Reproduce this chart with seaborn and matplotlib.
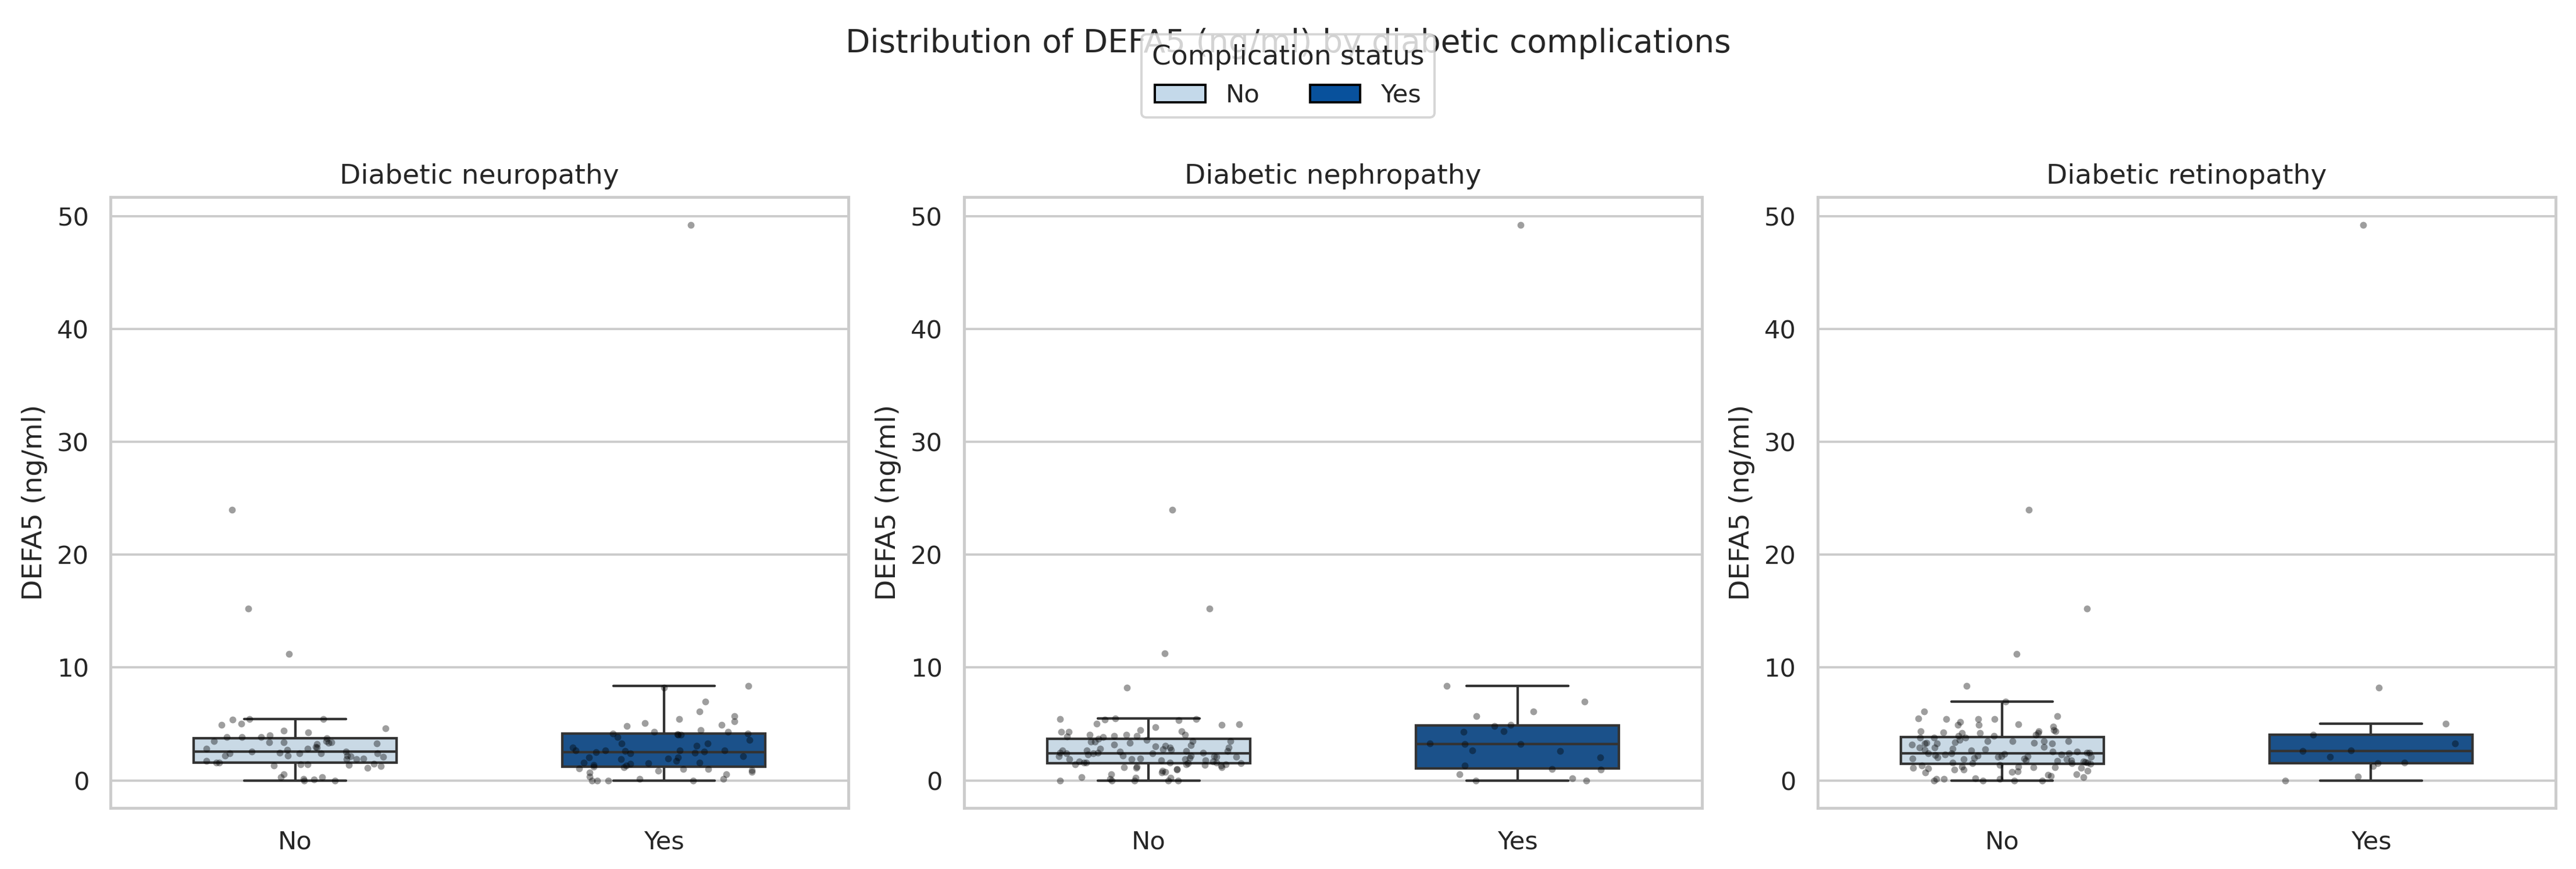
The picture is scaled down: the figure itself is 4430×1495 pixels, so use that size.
import numpy as np
import pandas as pd
import seaborn as sns
import matplotlib.pyplot as plt
from matplotlib.patches import Patch

# DEFA5 values (ng/ml), per complication and status
neuropathy_no = [0.0, 0.0, 0.1, 0.14, 0.28, 0.28, 0.57, 1.1, 1.28, 1.3, 1.35, 1.43, 1.43, 1.45,
                 1.56, 1.6, 1.74, 1.87, 1.87, 1.95, 2.1, 2.15, 2.2, 2.2, 2.2, 2.4, 2.4, 2.4, 2.4,
                 2.45, 2.55, 2.55, 2.7, 2.8, 2.8, 2.9, 2.96, 3.2, 3.25, 3.35, 3.4, 3.4, 3.4, 3.5,
                 3.5, 3.75, 3.85, 3.85, 3.85, 4.0, 4.25, 4.4, 4.6, 4.9, 5.0, 5.4, 5.45, 5.45,
                 11.2, 15.2, 24.0]
neuropathy_yes = [0.0, 0.0, 0.0, 0.0, 0.14, 0.14, 0.35, 0.52, 0.69, 0.74, 0.83, 0.92, 1.0, 1.0,
                  1.04, 1.18, 1.21, 1.31, 1.35, 1.47, 1.52, 1.6, 1.6, 1.73, 1.87, 1.95, 2.04,
                  2.04, 2.13, 2.39, 2.47, 2.5, 2.55, 2.6, 2.65, 2.65, 2.65, 2.65, 2.9, 3.08, 3.25,
                  3.29, 3.6, 3.86, 4.03, 4.03, 4.1, 4.15, 4.15, 4.29, 4.29, 4.46, 4.8, 4.9, 5.07,
                  5.24, 5.42, 5.67, 6.1, 6.97, 8.24, 8.36, 49.2]

nephropathy_no = [0.0, 0.0, 0.0, 0.0, 0.0, 0.14, 0.22, 0.22, 0.31, 0.57, 0.69, 0.74, 0.83, 0.97,
                  1.0, 1.09, 1.18, 1.18, 1.21, 1.3, 1.35, 1.44, 1.44, 1.44, 1.5, 1.52, 1.56, 1.6,
                  1.6, 1.6, 1.66, 1.7, 1.78, 1.8, 1.87, 1.87, 1.9, 1.95, 2.0, 2.08, 2.08, 2.13,
                  2.15, 2.21, 2.21, 2.3, 2.39, 2.39, 2.42, 2.47, 2.47, 2.47, 2.56, 2.6, 2.6, 2.65,
                  2.65, 2.7, 2.77, 2.82, 2.9, 2.9, 3.0, 3.08, 3.11, 3.17, 3.34, 3.43, 3.43, 3.5,
                  3.5, 3.6, 3.68, 3.86, 3.9, 3.94, 3.94, 4.05, 4.05, 4.05, 4.29, 4.29, 4.38, 4.46,
                  4.72, 4.9, 4.98, 5.02, 5.33, 5.36, 5.42, 5.42, 5.47, 8.24, 11.25, 15.2, 24.0]
nephropathy_yes = [0.0, 0.0, 0.17, 0.52, 0.97, 1.0, 1.31, 2.04, 2.6, 2.65, 3.22, 3.22, 3.29,
                   4.29, 4.33, 4.84, 4.9, 5.67, 6.1, 6.97, 8.36, 49.2]

retinopathy_no = [0.0, 0.0, 0.0, 0.0, 0.14, 0.14, 0.14, 0.17, 0.31, 0.4, 0.48, 0.57, 0.69, 0.74,
                  0.8, 0.87, 0.97, 0.97, 1.04, 1.09, 1.09, 1.15, 1.18, 1.21, 1.21, 1.3, 1.35,
                  1.49, 1.52, 1.52, 1.56, 1.6, 1.65, 1.7, 1.73, 1.78, 1.8, 1.87, 1.9, 1.95, 1.95,
                  2.0, 2.04, 2.08, 2.08, 2.13, 2.15, 2.21, 2.25, 2.3, 2.3, 2.35, 2.39, 2.4, 2.42,
                  2.47, 2.47, 2.56, 2.56, 2.65, 2.7, 2.77, 2.82, 2.9, 2.9, 2.99, 3.17, 3.25, 3.25,
                  3.29, 3.34, 3.34, 3.4, 3.46, 3.5, 3.5, 3.5, 3.6, 3.77, 3.81, 3.81, 3.94, 3.94,
                  4.03, 4.2, 4.2, 4.2, 4.26, 4.33, 4.38, 4.38, 4.46, 4.78, 4.9, 4.9, 4.98, 5.19,
                  5.42, 5.42, 5.42, 5.5, 5.67, 6.1, 6.97, 8.36, 11.2, 15.2, 24.0]
retinopathy_yes = [0.0, 0.35, 1.26, 1.52, 1.56, 2.08, 2.6, 2.65, 3.29, 4.03, 5.03, 8.24, 49.2]

panel_titles = ['Diabetic neuropathy', 'Diabetic nephropathy', 'Diabetic retinopathy']
panel_data = [(neuropathy_no, neuropathy_yes),
              (nephropathy_no, nephropathy_yes),
              (retinopathy_no, retinopathy_yes)]
status_order = ['No', 'Yes']
palette = {'No': '#c4d9ea', 'Yes': '#08519c'}

sns.set_theme(style='whitegrid')
np.random.seed(0)  # only for the strip jitter

fig, axes = plt.subplots(1, 3, figsize=(4430 / 283, 1495 / 283))
plt.subplots_adjust(left=0.043, right=0.992, bottom=0.07, top=0.773, wspace=0.157)

for ax, title, (no_vals, yes_vals) in zip(axes, panel_titles, panel_data):
    df = pd.DataFrame({
        'DEFA5': no_vals + yes_vals,
        'status': ['No'] * len(no_vals) + ['Yes'] * len(yes_vals),
    })
    sns.boxplot(data=df, x='status', y='DEFA5', hue='status', order=status_order,
                hue_order=status_order, palette=palette, width=0.55, showfliers=False,
                linewidth=1.1, linecolor='0.2', legend=False, ax=ax)
    sns.stripplot(data=df, x='status', y='DEFA5', order=status_order, color='black',
                  alpha=0.38, size=3, jitter=0.25, ax=ax)
    ax.set_title(title)
    ax.set_xlabel('')
    ax.set_ylabel('DEFA5 (ng/ml)')
    ax.set_yticks([0, 10, 20, 30, 40, 50])

# the legend sits over the title, as in the original figure
fig.suptitle('Distribution of DEFA5 (ng/ml) by diabetic complications', fontsize=14, y=0.968)

handles = [Patch(facecolor=palette[s], edgecolor='black', label=s) for s in status_order]
fig.legend(handles=handles, title='Complication status', loc='upper center',
           bbox_to_anchor=(0.5, 0.975), ncol=2)

fig.savefig('out.png', dpi=283)
